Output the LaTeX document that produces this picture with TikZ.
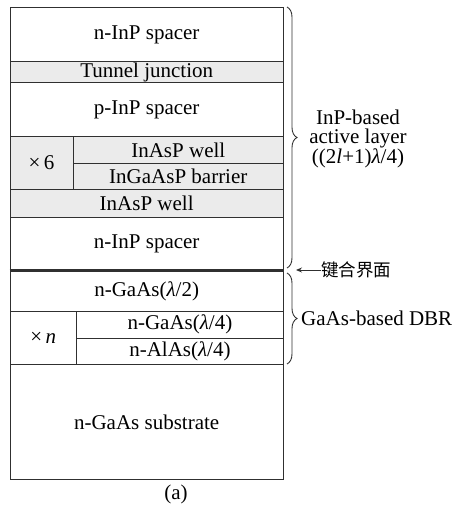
\documentclass[tikz,border=0pt]{standalone}
\usepackage{fontspec}
\setmainfont{Liberation Serif}
\newfontfamily\tnr{Liberation Serif}
\newfontfamily\cjk{Noto Sans CJK SC}
\usetikzlibrary{decorations.pathreplacing,arrows.meta}
\definecolor{layergray}{HTML}{EBEBEB}
\definecolor{linec}{HTML}{303030}
\begin{document}
\begin{tikzpicture}[x=1pt,y=-1pt,
  layer/.style={draw=linec, line width=0.9pt, fill=white, inner sep=0pt, anchor=north west,
    font=\tnr\fontsize{21}{22}\selectfont, text=black},
  glayer/.style={layer, fill=layergray},
  bracestyle/.style={draw=linec, line width=0.9pt, decorate, decoration={brace, amplitude=10pt}},
  sidetext/.style={font=\tnr\fontsize{21}{18.5}\selectfont, align=center, inner sep=0pt}
]
\useasboundingbox (0,0) rectangle (456,506);
% layers
\node[layer, minimum width=273.5pt, minimum height=54pt] (l1) at (9.5,7) {n-InP spacer};
\node[glayer, minimum width=273.5pt, minimum height=21pt] (tj) at (9.5,61) {Tunnel junction};
\node[layer, minimum width=273.5pt, minimum height=54pt] (pinp) at (9.5,82) {p-InP spacer};
\node[glayer, minimum width=63.2pt, minimum height=53pt] (x6) at (9.5,136) {×\,6};
\node[glayer, minimum width=210.3pt, minimum height=27pt] (w1) at (72.7,136) {InAsP well};
\node[glayer, minimum width=210.3pt, minimum height=26pt] (bar) at (72.7,163) {InGaAsP barrier};
\node[glayer, minimum width=273.5pt, minimum height=28pt] (w2) at (9.5,189) {InAsP well};
\node[layer, minimum width=273.5pt, minimum height=53.5pt] (ninp) at (9.5,217) {n-InP spacer};
\node[layer, minimum width=273.5pt, minimum height=40.2pt] (gh) at (9.5,270.5) {n-GaAs(\textit{λ}/2)};
\node[layer, minimum width=66.5pt, minimum height=53.3pt] (xn) at (9.5,310.7) {×\,\textit{n}};
\node[layer, minimum width=207pt, minimum height=27.3pt] (gq) at (76,310.7) {n-GaAs(\textit{λ}/4)};
\node[layer, minimum width=207pt, minimum height=26pt] (aq) at (76,338) {n-AlAs(\textit{λ}/4)};
\node[layer, minimum width=273.5pt, minimum height=115pt] (sub) at (9.5,364) {n-GaAs substrate};
% bonding interface
\draw[linec, line width=2.6pt] (gh.north west) -- (gh.north east);
% braces
\coordinate (b1t) at (287,7);
\coordinate (b1b) at (287,268);
\coordinate (b2t) at (287,273);
\coordinate (b2b) at (287,364);
\draw[bracestyle] (b1t) -- (b1b);
\draw[bracestyle] (b2t) -- (b2b);
\node[sidetext] (act) at (358,139) {InP-based\\active layer\\((2\textit{l}+1)\textit{λ}/4)};
\node[sidetext, anchor=west] (dbr) at (301,318) {GaAs-based DBR};
\node[anchor=west, inner sep=0pt, font=\cjk\fontsize{17.5}{20}\selectfont] (bond) at (321,270) {键合界面};
\coordinate (arrtip) at (296,270);
\draw[linec, line width=0.9pt, -{Stealth[length=6pt,width=5pt]}] (bond.west) -- (arrtip);
\node[font=\tnr\fontsize{21}{22}\selectfont, inner sep=0pt] (cap) at (176,494) {(a)};
\end{tikzpicture}
\end{document}
